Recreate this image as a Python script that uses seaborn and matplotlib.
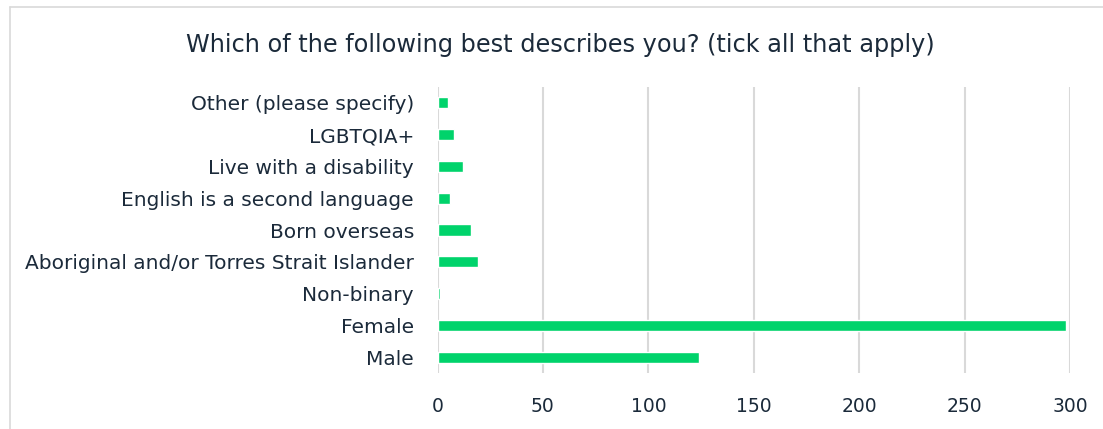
import matplotlib
matplotlib.use("Agg")
import matplotlib.pyplot as plt
import seaborn as sns
import pandas as pd
from matplotlib.lines import Line2D

categories = [
    "Other (please specify)",
    "LGBTQIA+",
    "Live with a disability",
    "English is a second language",
    "Born overseas",
    "Aboriginal and/or Torres Strait Islander",
    "Non-binary",
    "Female",
    "Male",
]
counts = [5, 8, 12, 6, 16, 19, 1, 298, 124]
xticks = [0, 50, 100, 150, 200, 250, 300]
title = "Which of the following best describes you? (tick all that apply)"

sns.set_theme(style="white")
plt.rcParams["font.family"] = ["DejaVu Sans"]
text_color = "#1b2a3a"
bar_color = "#00d36b"

df = pd.DataFrame({"category": categories, "count": counts})

fig = plt.figure(figsize=(11.03, 4.29), dpi=100)
ax = fig.add_axes([437.5 / 1103, 1 - 373 / 429, (1070 - 437.5) / 1103, (373 - 87) / 429])
sns.barplot(data=df, x="count", y="category", orient="h", color=bar_color,
            width=0.35, saturation=1, ax=ax, order=categories)

ax.set_xlim(0, 300)
ax.set_ylim(8.5, -0.5)
ax.set_xticks(xticks)
ax.set_xticklabels([str(t) for t in xticks])
ax.set_xlabel("")
ax.set_ylabel("")
ax.grid(axis="x", color="#d9d9d9", linewidth=1.5)
ax.grid(axis="y", visible=False)
ax.set_axisbelow(True)
for s in ax.spines.values():
    s.set_visible(False)
ax.tick_params(axis="y", length=0, pad=17, labelsize=14.5, labelcolor=text_color)
ax.tick_params(axis="x", length=0, pad=17, labelsize=13.5, labelcolor=text_color)

fig.text(560 / 1103, 1 - 45 / 429, title, ha="center", va="center",
         fontsize=17.3, color=text_color)

# outer frame
fig.add_artist(Line2D([9.5 / 1103, 9.5 / 1103], [0, 1 - 6.5 / 429], transform=fig.transFigure,
                      color="#d9d9d9", linewidth=1.2))
fig.add_artist(Line2D([9.5 / 1103, 1], [1 - 6.5 / 429, 1 - 6.5 / 429], transform=fig.transFigure,
                      color="#d9d9d9", linewidth=1.2))

fig.savefig("out.png", dpi=100)
